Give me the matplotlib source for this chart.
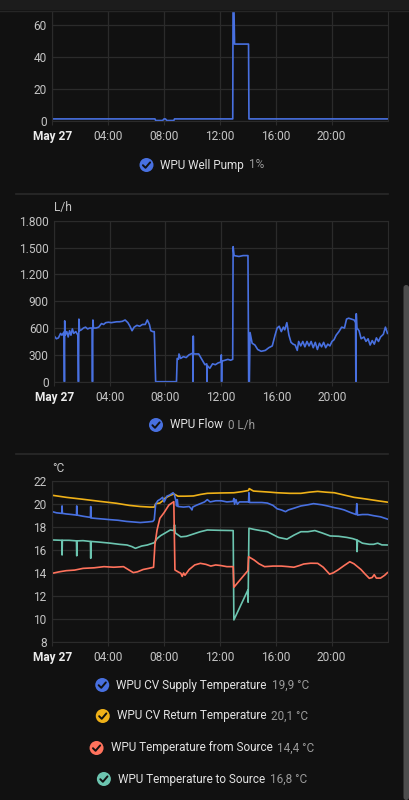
import matplotlib
matplotlib.use('Agg')
import matplotlib.pyplot as plt
from matplotlib.patches import Circle, FancyBboxPatch, Rectangle
from matplotlib.lines import Line2D

# ---- data (hours since midnight, values) ----
pump_t = [0, 7.35, 7.4, 7.9, 8.0, 8.1, 8.2, 8.7, 8.75, 12.92, 12.95, 13.05, 14.05, 14.08, 24]
pump_v = [1, 1, 0, 0, 1, 1, 0, 0, 1, 1, 100, 48, 48, 1, 1]

flow_t = [0.00, 0.15, 0.30, 0.45, 0.55, 0.70, 0.73, 0.75, 0.78, 0.90, 1.00, 1.10, 1.20, 1.30,
          1.40, 1.55, 1.70, 1.74, 1.77, 1.82, 1.95, 2.10, 2.25, 2.40, 2.55, 2.72, 2.75, 2.78,
          2.82, 3.00, 3.20, 3.40, 3.55, 3.70, 3.90, 4.10, 4.30, 4.50, 4.70, 4.90, 5.10, 5.30,
          5.45, 5.60, 5.75, 5.95, 6.15, 6.35, 6.55, 6.70, 6.85, 6.95, 7.10, 7.20, 7.30, 8.80,
          8.85, 8.95, 8.98, 9.10, 9.30, 9.50, 9.70, 9.85, 9.98, 9.99, 10.01, 10.03, 10.20, 10.40,
          10.55, 10.70, 10.85, 10.98, 11.00, 11.02, 11.20, 11.40, 11.60, 11.80, 12.00, 12.03,
          12.05, 12.07, 12.30, 12.50, 12.70, 12.85, 12.88, 12.95, 13.30, 13.60, 13.95, 14.00,
          14.05, 14.10, 14.25, 14.45, 14.65, 14.90, 15.20, 15.45, 15.70, 15.90, 16.05, 16.20,
          16.35, 16.50, 16.60, 16.75, 16.90, 17.05, 17.20, 17.35, 17.50, 17.60, 17.75, 17.90,
          18.05, 18.20, 18.35, 18.50, 18.65, 18.80, 18.95, 19.10, 19.25, 19.40, 19.55, 19.70,
          19.85, 20.00, 20.15, 20.30, 20.50, 20.70, 20.90, 21.05, 21.20, 21.40, 21.60, 21.70,
          21.72, 21.75, 21.80, 21.95, 22.10, 22.30, 22.45, 22.60, 22.75, 22.90, 23.05, 23.20,
          23.35, 23.50, 23.70, 23.85, 24.00]
flow_v = [510, 480, 490, 540, 520, 555, 0, 680, 520, 560, 500, 570, 520, 590,
          540, 560, 520, 0, 700, 570, 580, 600, 610, 590, 600, 600, 0, 690,
          600, 600, 610, 650, 640, 660, 665, 660, 665, 670, 670, 675, 690, 660,
          620, 570, 610, 630, 620, 640, 640, 690, 640, 570, 560, 560, 0, 0,
          260, 250, 310, 260, 280, 270, 300, 310, 320, 0, 510, 310, 310, 310,
          270, 230, 190, 200, 0, 180, 150, 200, 190, 210, 220, 300,
          0, 230, 240, 250, 240, 250, 1510, 1410, 1400, 1410, 1410, 0,
          0, 550, 430, 410, 360, 340, 350, 380, 400, 520, 600, 620,
          560, 610, 580, 660, 520, 440, 420, 410, 350, 450, 400, 450,
          390, 450, 400, 450, 380, 440, 360, 430, 390, 440, 380, 420,
          400, 450, 470, 520, 560, 610, 600, 700, 710, 700, 690, 660,
          0, 760, 600, 570, 480, 500, 450, 480, 410, 460, 420, 490,
          450, 500, 530, 610, 540]

supply_t = [0.0, 0.3, 0.68, 0.7, 0.72, 1.0, 1.4, 1.73, 1.75, 1.77, 2.2, 2.73, 2.75, 2.77, 3.2,
            3.7, 4.15, 4.7, 5.3, 5.8, 6.3, 6.8, 7.2, 7.3, 7.4, 7.55, 7.75, 7.9, 8.0, 8.05, 8.2,
            8.4, 8.65, 8.75, 8.85, 8.9, 8.95, 9.0, 9.4, 9.8, 9.95, 10.0, 10.05, 10.3, 10.6,
            10.9, 11.1, 11.3, 11.7, 12.1, 12.5, 12.95, 13.0, 13.05, 13.15, 13.25, 13.4, 13.7,
            14.05, 14.08, 14.12, 14.5, 15.0, 15.4, 15.8, 16.1, 16.4, 16.7, 16.9, 17.3, 17.8,
            18.3, 18.7, 19.0, 19.3, 19.7, 20.2, 20.6, 20.9, 21.3, 21.75, 21.8, 21.85, 22.2,
            22.6, 23.0, 23.5, 24.0]
supply_v = [19.35, 19.25, 19.2, 19.85, 19.2, 19.15, 19.1, 19.05, 19.85, 19.05, 18.95, 18.85,
            19.8, 18.8, 18.75, 18.7, 18.65, 18.6, 18.5, 18.45, 18.4, 18.45, 18.5, 18.65, 20.0,
            20.3, 20.45, 20.6, 20.2, 20.3, 20.7, 20.8, 21.0, 20.8, 20.3, 19.85, 20.4, 19.8,
            19.75, 19.8, 19.6, 19.5, 19.75, 19.9, 20.05, 20.2, 20.4, 20.2, 20.3, 20.3, 20.2,
            20.25, 20.5, 20.0, 20.4, 20.0, 20.2, 20.2, 20.2, 21.0, 20.15, 20.15, 20.15, 20.1,
            19.9, 19.6, 19.5, 19.35, 19.5, 19.65, 19.85, 19.95, 20.05, 20.0, 19.95, 19.85,
            19.7, 19.6, 19.5, 19.3, 19.1, 20.05, 19.05, 19.1, 19.1, 19.0, 18.9, 18.7]

return_t = [0, 1.0, 2.2, 3.4, 4.6, 5.5, 6.3, 7.0, 7.3, 7.4, 7.7, 7.9, 8.1, 8.4, 8.7, 9.0, 9.5,
            10.1, 10.6, 11.1, 12.0, 13.0, 13.6, 14.05, 14.1, 14.4, 15.0, 15.6, 16.1, 17.0, 17.8,
            18.4, 19.0, 19.6, 20.2, 20.9, 21.6, 22.2, 22.6, 23.3, 24.0]
return_v = [20.78, 20.6, 20.43, 20.25, 20.08, 19.9, 19.8, 19.75, 19.75, 20.05, 20.1, 20.3,
            20.55, 20.75, 20.9, 20.7, 20.7, 20.72, 20.85, 20.95, 20.98, 21.0, 21.1, 21.2,
            21.36, 21.15, 21.1, 21.05, 21.0, 20.95, 20.95, 21.05, 21.12, 21.05, 21.0, 20.8,
            20.6, 20.5, 20.43, 20.3, 20.18]

from_t = [0, 0.5, 1.0, 1.6, 2.2, 3.0, 3.7, 4.4, 5.1, 5.5, 5.8, 6.1, 6.5, 6.9, 7.25, 7.35, 7.5,
          7.7, 8.0, 8.35, 8.7, 8.78, 9.0, 9.2, 9.3, 9.4, 9.5, 9.8, 10.2, 10.6, 11.0, 11.35,
          11.7, 12.05, 12.5, 12.95, 13.0, 14.0, 14.05, 14.45, 14.8, 15.2, 15.8, 16.4, 16.9,
          17.3, 17.7, 18.0, 18.5, 19.0, 19.4, 19.85, 20.1, 20.45, 20.9, 21.3, 21.6, 22.1,
          22.4, 22.7, 22.9, 23.05, 23.2, 23.5, 23.8, 24.0]
from_v = [13.97, 14.1, 14.2, 14.25, 14.4, 14.45, 14.55, 14.5, 14.55, 14.25, 14.03, 14.1, 14.3,
          14.4, 14.5, 16.5, 17.75, 18.77, 19.26, 19.93, 20.22, 14.26, 14.1, 13.97, 13.7, 14.0,
          13.8, 14.3, 14.7, 14.84, 14.75, 14.6, 14.7, 14.65, 14.55, 14.55, 12.75, 14.2,
          15.42, 15.13, 14.8, 14.55, 14.6, 14.6, 14.55, 14.5, 14.65, 14.78, 14.85, 14.84,
          14.5, 13.9, 14.0, 14.26, 14.65, 14.98, 14.8, 14.3, 13.9, 13.53, 13.6, 13.85, 13.55,
          13.55, 13.8, 14.03]

to_t = [0, 0.68, 0.7, 0.72, 1.2, 1.73, 1.75, 1.77, 2.2, 2.73, 2.75, 2.77, 3.3, 4.15, 4.8,
        5.35, 5.7, 5.95, 6.4, 6.8, 7.3, 7.5, 7.75, 8.1, 8.45, 8.7, 8.75, 8.8, 9.2, 9.6, 10.1,
        10.6, 11.1, 12.0, 12.95, 13.0, 14.0, 14.02, 14.08, 14.45, 14.9, 15.4, 15.8, 16.2, 16.8,
        17.3, 17.8, 18.3, 18.8, 19.3, 19.9, 20.5, 21.1, 21.5, 21.8, 21.82, 21.85, 22.2, 22.7,
        23.0, 23.3, 23.6, 24.0]
to_v = [16.88, 16.85, 15.57, 16.85, 16.85, 16.8, 15.5, 16.8, 16.82, 16.75, 15.28, 16.75, 16.7,
        16.6, 16.5, 16.44, 16.3, 16.15, 16.35, 16.44, 16.64, 17.0, 17.25, 17.5, 17.75, 17.7,
        18.2, 17.5, 17.15, 17.2, 17.4, 17.6, 17.75, 17.72, 17.7, 9.9, 12.5, 11.45, 17.9,
        17.8, 17.7, 17.6, 17.35, 17.1, 16.95, 17.3, 17.6, 17.6, 17.7, 17.5, 17.23, 17.2,
        17.1, 17.0, 16.88, 15.86, 16.85, 16.6, 16.5, 16.5, 16.6, 16.45, 16.44]

x_ticks = [0, 4, 8, 12, 16, 20]
x_labels = ['May 27', '04:00', '08:00', '12:00', '16:00', '20:00']

W, H = 409, 800
BG = '#111111'
GRID = '#2b2b2b'
TICK = '#c4c4c4'
BLUE, YELLOW, RED, TEAL = '#4870e0', '#efb118', '#ff725c', '#6cc5b0'

plt.rcParams['font.family'] = ['Roboto', 'DejaVu Sans']

fig = plt.figure(figsize=(W / 100, H / 100), dpi=100, facecolor=BG)


def make_ax(left, top, right, bottom):
    ax = fig.add_axes([left / W, 1 - bottom / H, (right - left) / W, (bottom - top) / H])
    ax.set_facecolor(BG)
    for s in ax.spines.values():
        s.set_color(GRID)
    ax.grid(True, color=GRID, lw=0.9)
    ax.set_axisbelow(True)
    ax.set_xlim(0, 24)
    ax.set_xticks(x_ticks)
    ax.set_xticklabels(x_labels)
    ax.tick_params(axis='x', colors=GRID, length=3, pad=3.5, labelcolor=TICK, labelsize=8.6)
    ax.tick_params(axis='y', length=0, pad=4, labelcolor=TICK, labelsize=8.6)
    lab0 = ax.get_xticklabels()[0]
    lab0.set_fontweight('bold')
    lab0.set_color('#ececec')
    return ax


def px(x, y):
    # pixel (from top-left) -> inches for dpi_scale_trans
    return x / 100, (H - y) / 100


def legend_item(cx, y, color, name, value):
    r = fig.canvas.get_renderer()
    t1 = fig.text(0, 1 - y / H, name, color='#e2e2e2', fontsize=8.5, va='center')
    t2 = fig.text(0, 1 - y / H, value, color='#9a9a9a', fontsize=8.5, va='center')
    w1 = t1.get_window_extent(r).width
    w2 = t2.get_window_extent(r).width
    total = 14 + 7 + w1 + 5 + w2
    x0 = cx - total / 2
    t1.set_x((x0 + 21) / W)
    t2.set_x((x0 + 21 + w1 + 5) / W)
    ccx = x0 + 7
    fig.add_artist(Circle(px(ccx, y), 7 / 100, transform=fig.dpi_scale_trans,
                          color=color, lw=0))
    xs = [ccx - 3.6, ccx - 1.0, ccx + 3.6]
    ys = [y + 0.2, y + 2.8, y - 2.6]
    pts = [px(a, b) for a, b in zip(xs, ys)]
    fig.add_artist(Line2D([p[0] for p in pts], [p[1] for p in pts],
                          transform=fig.dpi_scale_trans, color='#111111', lw=1.4,
                          solid_capstyle='round', solid_joinstyle='round'))


# top app bar and separators
fig.add_artist(Rectangle((0, 1 - 10 / H), 1, 10 / H, transform=fig.transFigure,
                         color='#1c1c1c', lw=0))
fig.add_artist(Line2D([0, 1], [1 - 10.5 / H, 1 - 10.5 / H], transform=fig.transFigure,
                      color='#262626', lw=1))
for sy in [193.5, 453.5]:
    fig.add_artist(Line2D([16 / W, 388 / W], [1 - sy / H, 1 - sy / H],
                          transform=fig.transFigure, color='#2a2a2a', lw=1.2))

# chart 1: well pump
ax1 = make_ax(52.3, 11, 387.5, 120.5)
ax1.set_ylim(0, (120.5 - 11) / 1.592)
ax1.set_yticks([0, 20, 40, 60])
ax1.plot(pump_t, pump_v, color=BLUE, lw=1.2)
legend_item(202, 165, BLUE, 'WPU Well Pump', '1%')

# chart 2: flow
ax2 = make_ax(54.3, 220.7, 387.5, 381.7)
ax2.set_ylim(0, 1800)
ax2.set_yticks([0, 300, 600, 900, 1200, 1500, 1800])
ax2.set_yticklabels(['0', '300', '600', '900', '1.200', '1.500', '1.800'])
ax2.plot(flow_t, flow_v, color=BLUE, lw=1.2)
fig.text(54 / W, 1 - 208 / H, 'L/h', color=TICK, fontsize=8.6, va='center', ha='left')
legend_item(202, 425, BLUE, 'WPU Flow', '0 L/h')

# chart 3: temperatures
ax3 = make_ax(52.3, 481.3, 387.5, 641.7)
ax3.set_ylim(8, 22)
ax3.set_yticks(range(8, 23, 2))
ax3.plot(return_t, return_v, color=YELLOW, lw=1.2)
ax3.plot(to_t, to_v, color=TEAL, lw=1.2)
ax3.plot(from_t, from_v, color=RED, lw=1.2)
ax3.plot(supply_t, supply_v, color=BLUE, lw=1.2)
fig.text(52 / W, 1 - 468 / H, '°C', color=TICK, fontsize=8.6, va='center', ha='left')
legend_item(202, 685, BLUE, 'WPU CV Supply Temperature', '19,9 °C')
legend_item(202, 716, YELLOW, 'WPU CV Return Temperature', '20,1 °C')
legend_item(202, 748, RED, 'WPU Temperature from Source', '14,4 °C')
legend_item(202, 779, TEAL, 'WPU Temperature to Source', '16,8 °C')

# scrollbar
fig.add_artist(FancyBboxPatch(px(403.5, 800), 5.5 / 100, (800 - 285) / 100,
                              boxstyle='round,pad=0,rounding_size=0.027',
                              transform=fig.dpi_scale_trans, color='#4d4d4d', lw=0))

fig.savefig('out.png', dpi=100, facecolor=BG)
